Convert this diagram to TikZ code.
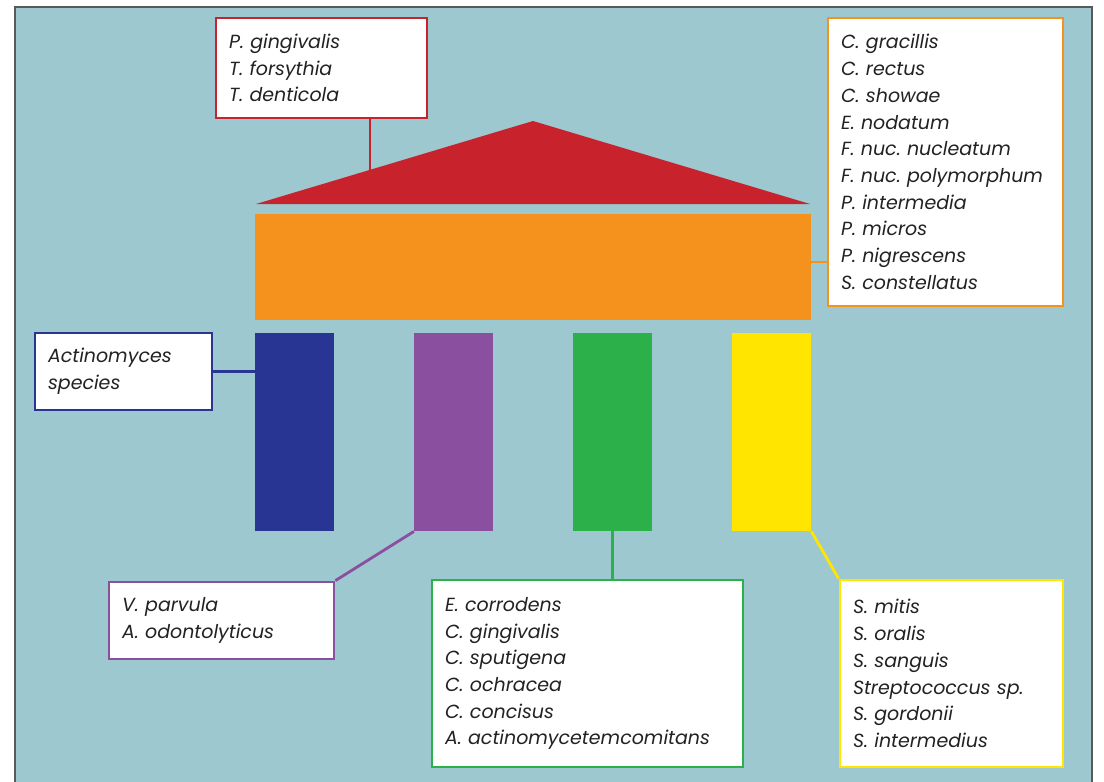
\documentclass[tikz,border=0pt]{standalone}
\usepackage{fontspec}
\setmainfont{Poppins}
\definecolor{bg}{HTML}{9EC8D0}
\definecolor{cred}{HTML}{C8232C}
\definecolor{corange}{HTML}{F5921E}
\definecolor{cblue}{HTML}{283593}
\definecolor{cpurple}{HTML}{8A4F9E}
\definecolor{cgreen}{HTML}{2BB04A}
\definecolor{cyellow}{HTML}{FFE500}
\definecolor{txt}{HTML}{222222}
\begin{document}
\frenchspacing
\begin{tikzpicture}[x=1pt,y=-1pt,
  lbox/.style={draw=#1,line width=2.8pt,fill=white,rectangle,inner xsep=13pt,inner ysep=0pt,
    align=left,text=txt,font=\fontsize{19}{26.7}\selectfont\itshape,anchor=center},
  conn/.style={draw=#1,line width=2.8pt},
  pillar/.style={fill=#1,draw=none,rectangle,anchor=north west,minimum width=79pt,minimum height=198pt,inner sep=0pt}]
\useasboundingbox (0,0) rectangle (1104,782);
\fill[white] (0,0) rectangle (1104,782);
\fill[bg] (15,7) rectangle (1092,782);
\draw[line width=1.5pt,gray!70!black] (15,782) -- (15,7) -- (1092,7) -- (1092,782);
% temple
\node[fill=cred,draw=none,inner sep=0pt,minimum size=0pt] (apex) at (533,121) {};
\fill[cred] (256,204) -- (apex.center) -- (810,204) -- cycle;
\node[fill=corange,draw=none,rectangle,inner sep=0pt,minimum width=556pt,minimum height=106pt,anchor=north west] (orect) at (255,214) {};
\node[pillar=cblue] (pblue) at (255,333) {};
\node[pillar=cpurple] (ppurple) at (414,333) {};
\node[pillar=cgreen] (pgreen) at (573,333) {};
\node[pillar=cyellow] (pyellow) at (732,333) {};
% label boxes
\node[lbox=cred,text width=185pt,minimum height=100pt] (redbox) at (321.5,68) {P. gingivalis\\T. forsythia\\T. denticola};
\node[lbox=corange,text width=209pt,minimum height=288pt] (obox) at (945.5,162) {C. gracillis\\C. rectus\\C. showae\\E. nodatum\\F. nuc. nucleatum\\F. nuc. polymorphum\\P. intermedia\\P. micros\\P. nigrescens\\S. constellatus};
\node[lbox=cblue,text width=151pt,minimum height=77pt] (actbox) at (123.5,371.5) {Actinomyces\\species};
\node[lbox=cpurple,text width=199pt,minimum height=77pt] (vbox) at (221.5,620.5) {V. parvula\\A. odontolyticus};
\node[lbox=cgreen,text width=285pt,minimum height=187pt] (gbox) at (587.5,673.5) {E. corrodens\\C. gingivalis\\C. sputigena\\C. ochracea\\C. concisus\\A. actinomycetemcomitans};
\node[lbox=cyellow,text width=197pt,minimum height=187pt] (ybox) at (951.5,673.5) {S. mitis\\S. oralis\\S. sanguis\\Streptococcus sp.\\S. gordonii\\S. intermedius};
% connectors
\coordinate (rc) at (370,170);
\coordinate (oc) at (0,262);
\draw[conn=cred] (redbox.south -| rc) -- (rc);
\draw[conn=corange] (orect.east |- oc) -- (obox.west |- oc);
\draw[conn=cblue] (actbox.east) -- (pblue.west |- actbox.east);
\draw[conn=cpurple] (vbox.north east) -- (ppurple.south west);
\draw[conn=cgreen] (pgreen.south) -- (pgreen.south |- gbox.north);
\draw[conn=cyellow] (pyellow.south east) -- (ybox.north west);
\end{tikzpicture}
\end{document}
